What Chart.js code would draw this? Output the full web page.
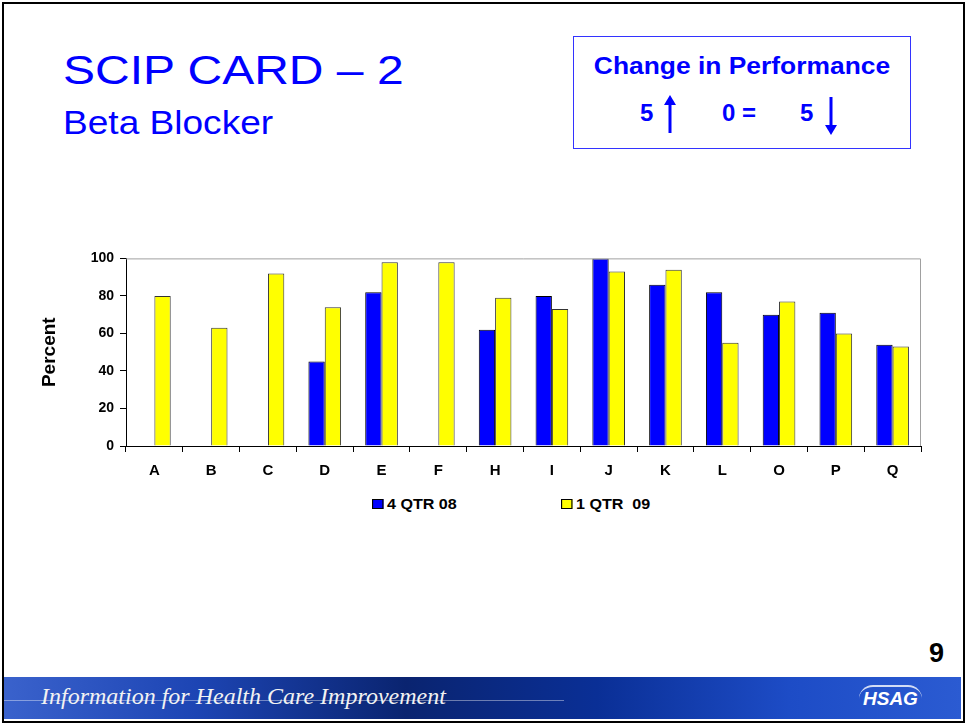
<!DOCTYPE html>
<html>
<head>
<meta charset="utf-8">
<script src="https://cdn.jsdelivr.net/npm/chart.js@4"></script>
<style>
  body { margin: 0; background: #fff; font-family: Arial, "Liberation Sans", sans-serif; }
  #slide { position: relative; width: 966px; height: 725px; overflow: hidden; background: #fff; }
  #frame { position: absolute; left: 2px; top: 2px; width: 959px; height: 717px; border: 2px solid #000; }
  .title { position: absolute; left: 63px; top: 48px; font-size: 40px; color: #0000ff; white-space: nowrap;
           transform: scaleX(1.2); transform-origin: left top; }
  .subtitle { position: absolute; left: 63px; top: 103px; font-size: 34px; color: #0000ff; white-space: nowrap;
              transform: scaleX(1.09); transform-origin: left top; }
  #perf { position: absolute; left: 573px; top: 36px; width: 336px; height: 111px; border: 1px solid #3333ff; color: #0000ff; font-weight: bold; }
  #perf .h { position: absolute; left: 0; width: 100%; top: 15px; text-align: center; font-size: 24px; transform: scaleX(1.1); }
  #perf .n { position: absolute; top: 62px; font-size: 24px; }
  #perf svg { position: absolute; }
  #chartBox { position: absolute; left: 30px; top: 244px; width: 910px; height: 246px; }
  #legend { position: absolute; top: 496px; left: 0; font-size: 14px; font-weight: bold; }
  .lg { position: absolute; white-space: nowrap; display: flex; align-items: center; transform: scaleX(1.15); transform-origin: left center; }
  .lg i { display: inline-block; width: 8px; height: 8px; border: 1px solid #000; margin-right: 3px; }
  #page { position: absolute; left: 929px; top: 638px; font-size: 27px; font-weight: bold; }
  #footer { position: absolute; left: 4px; top: 677px; width: 957px; height: 42px;
    background: linear-gradient(90deg, #3a62cc 0%, #1d45b4 20%, #0a2470 42%, #0a2f96 62%, #1d4cc6 82%, #2b5bd2 100%); }
  #footer .line { position: absolute; left: 0; width: 560px; top: 23px; height: 1px; background: rgba(255,255,255,0.4); }
  #footer .t { position: absolute; left: 37px; top: 6px; font-family: "Liberation Serif", "DejaVu Serif", serif; font-style: italic; font-size: 24px; color: #f2f2f2; white-space: nowrap; }
  #footer .logo { position: absolute; left: 855px; top: 8px; padding: 1px 4px; font-size: 19px; font-weight: bold; font-style: italic; color: #fff;
    border-top: 2px solid rgba(255,255,255,0.8); border-radius: 14px 14px 0 0; }
</style>
</head>
<body>
<div id="slide">
  <div id="frame"></div>
  <div class="title">SCIP CARD – 2</div>
  <div class="subtitle">Beta Blocker</div>

  <div id="perf">
    <div class="h">Change in Performance</div>
    <span class="n" style="left:66px">5</span>
    <svg style="left:89px;top:58px" width="14" height="40" viewBox="0 0 14 40">
      <line x1="7" y1="8" x2="7" y2="38" stroke="#0000ff" stroke-width="3"/>
      <polygon points="1,10 7,0 13,10" fill="#0000ff"/>
    </svg>
    <span class="n" style="left:148px">0 =</span>
    <span class="n" style="left:226px">5</span>
    <svg style="left:250px;top:60px" width="14" height="40" viewBox="0 0 14 40">
      <line x1="7" y1="0" x2="7" y2="30" stroke="#0000ff" stroke-width="3"/>
      <polygon points="1,28 7,38 13,28" fill="#0000ff"/>
    </svg>
  </div>

  <div id="chartBox"><canvas id="chart"></canvas></div>
  <div id="legend"></div>

  <div id="page">9</div>
  <div id="footer">
    <div class="line"></div>
    <div class="t">Information for Health Care Improvement</div>
    <div class="logo">HSAG</div>
  </div>
</div>

<script>
"use strict";

// ── Data ──────────────────────────────────────────────────────────────────────
const categories = ["A", "B", "C", "D", "E", "F", "H", "I", "J", "K", "L", "O", "P", "Q"];
const qtr4_08    = [null, null, null, 45, 82, null, 62, 80, 100, 86, 82, 70, 71, 54];
const qtr1_09    = [80, 63, 92, 74, 98, 98, 79, 73, 93, 94, 55, 77, 60, 53];
const yTicks     = [0, 20, 40, 60, 80, 100];

const seriesLabels = ["4 QTR 08", "1 QTR  09"];
const seriesColors = ["#0000ff", "#ffff00"];

// ── Plot frame (gray top/right border) ────────────────────────────────────────
const frameBorder = {
  id: "frameBorder",
  afterDraw(chart) {
    const { ctx, chartArea: a } = chart;
    ctx.save();
    ctx.strokeStyle = "#a0a0a0";
    ctx.lineWidth = 1;
    ctx.beginPath();
    ctx.moveTo(a.left, a.top + 0.5);
    ctx.lineTo(a.right - 0.5, a.top + 0.5);
    ctx.lineTo(a.right - 0.5, a.bottom);
    ctx.stroke();
    ctx.restore();
  },
};

const font = { family: "Arial, 'Liberation Sans', sans-serif", size: 14, weight: "bold" };

const chart = new Chart(document.getElementById("chart"), {
  type: "bar",
  data: {
    labels: categories,
    datasets: [
      { label: seriesLabels[0], data: qtr4_08, backgroundColor: seriesColors[0], borderColor: "#000", borderWidth: 1 },
      { label: seriesLabels[1], data: qtr1_09, backgroundColor: seriesColors[1], borderColor: "#333", borderWidth: 1 },
    ],
  },
  options: {
    responsive: true,
    maintainAspectRatio: false,
    animation: false,
    layout: { padding: { top: 0, right: 19, left: 0, bottom: 0 } },
    datasets: { bar: { barPercentage: 1.0, categoryPercentage: 0.575 } },
    plugins: { legend: { display: false }, tooltip: { enabled: false } },
    scales: {
      x: {
        grid: { offset: true, drawOnChartArea: false, drawTicks: true, tickLength: 6, color: "#000" },
        border: { color: "#000", width: 1 },
        ticks: { color: "#000", font: { ...font, size: 15 }, padding: 10 },
      },
      y: {
        min: 0, max: 100,
        afterBuildTicks: axis => { axis.ticks = yTicks.map(v => ({ value: v })); },
        afterFit: axis => { axis.width = 96; },
        grid: { drawOnChartArea: false, drawTicks: true, tickLength: 6, color: "#000" },
        border: { color: "#000", width: 1 },
        ticks: { color: "#000", font, padding: 6 },
        title: { display: true, text: "Percent", color: "#000", font: { ...font, size: 19 }, padding: { top: 8, bottom: 0 } },
      },
    },
  },
  plugins: [frameBorder],
});

// ── Legend (HTML, spaced like the original) ───────────────────────────────────
const legend = document.getElementById("legend");
const legendX = [372, 561];
seriesLabels.forEach((lab, i) => {
  const d = document.createElement("div");
  d.className = "lg";
  d.style.left = legendX[i] + "px";
  const sw = document.createElement("i");
  sw.style.background = seriesColors[i];
  d.appendChild(sw);
  d.appendChild(document.createTextNode(lab.replace(/ /g, "\u00a0")));
  legend.appendChild(d);
});
</script>
</body>
</html>
